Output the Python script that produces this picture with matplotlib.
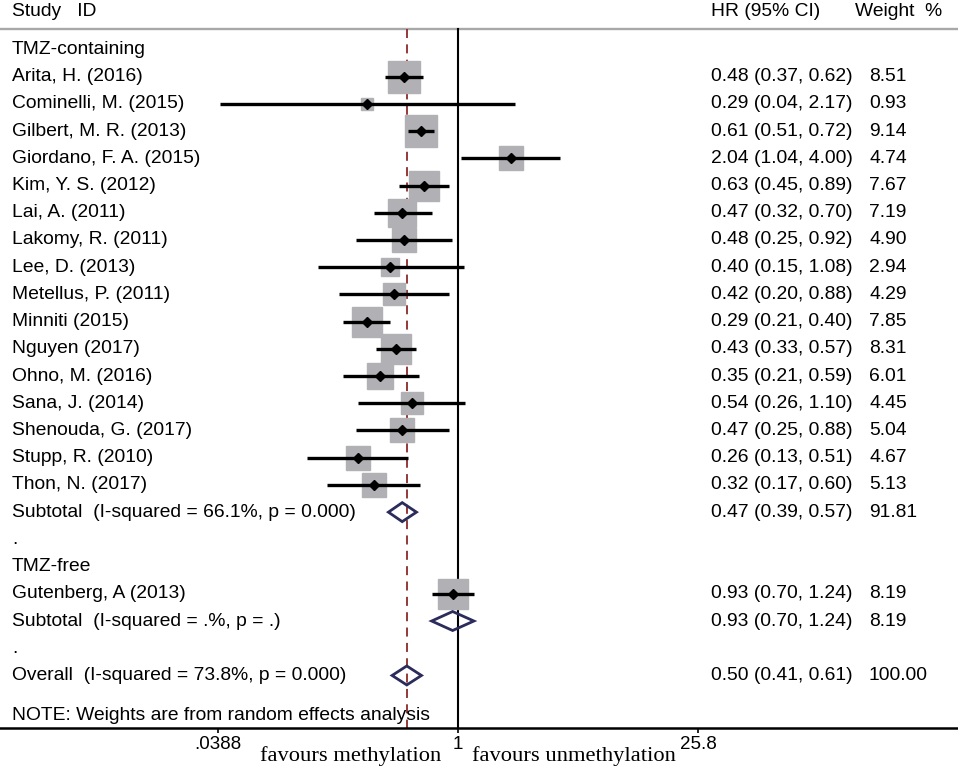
import numpy as np
import matplotlib
matplotlib.use("Agg")
import matplotlib.pyplot as plt
from matplotlib.patches import Polygon
import matplotlib.transforms as mtransforms

# ---------------- data ----------------
studies_tmz = ["Arita, H. (2016)", "Cominelli, M. (2015)", "Gilbert, M. R. (2013)",
               "Giordano, F. A. (2015)", "Kim, Y. S. (2012)", "Lai, A. (2011)",
               "Lakomy, R. (2011)", "Lee, D. (2013)", "Metellus, P. (2011)",
               "Minniti (2015)", "Nguyen (2017)", "Ohno, M. (2016)", "Sana, J. (2014)",
               "Shenouda, G. (2017)", "Stupp, R. (2010)", "Thon, N. (2017)"]
hr_tmz = [0.48, 0.29, 0.61, 2.04, 0.63, 0.47, 0.48, 0.40, 0.42, 0.29, 0.43, 0.35, 0.54, 0.47, 0.26, 0.32]
lo_tmz = [0.37, 0.04, 0.51, 1.04, 0.45, 0.32, 0.25, 0.15, 0.20, 0.21, 0.33, 0.21, 0.26, 0.25, 0.13, 0.17]
hi_tmz = [0.62, 2.17, 0.72, 4.00, 0.89, 0.70, 0.92, 1.08, 0.88, 0.40, 0.57, 0.59, 1.10, 0.88, 0.51, 0.60]
w_tmz = [8.51, 0.93, 9.14, 4.74, 7.67, 7.19, 4.90, 2.94, 4.29, 7.85, 8.31, 6.01, 4.45, 5.04, 4.67, 5.13]
sub_tmz = [0.47, 0.39, 0.57, 91.81]
sub_tmz_label = "Subtotal  (I-squared = 66.1%, p = 0.000)"

studies_free = ["Gutenberg, A (2013)"]
hr_free = [0.93]
lo_free = [0.70]
hi_free = [1.24]
w_free = [8.19]
sub_free = [0.93, 0.70, 1.24, 8.19]
sub_free_label = "Subtotal  (I-squared = .%, p = .)"

overall = [0.50, 0.41, 0.61, 100.00]
overall_label = "Overall  (I-squared = 73.8%, p = 0.000)"

tick_vals = [0.0388, 1, 25.8]
tick_labels = [".0388", "1", "25.8"]

# ---------------- layout ----------------
W, H = 958, 772
PX0 = 458.0      # pixel of HR = 1
PXL = 73.9       # pixels per natural-log unit
ROW0 = 49.4
ROWH = 27.22
AXIS_Y = 728
TOP_Y = 29

fig = plt.figure(figsize=(W / 100, H / 100), dpi=100)
ax = fig.add_axes([0, 0, 1, 1])
ax.set_xscale("log")
ax.set_xlim(np.exp((0 - PX0) / PXL), np.exp((W - PX0) / PXL))
ax.set_ylim(H, 0)
for s in ["top", "left", "right"]:
    ax.spines[s].set_visible(False)
ax.spines["bottom"].set_position(("data", AXIS_Y))
ax.spines["bottom"].set_linewidth(1.8)
ax.set_yticks([])
ax.set_xticks(tick_vals)
ax.set_xticklabels(tick_labels)
ax.minorticks_off()
ax.tick_params(axis="x", direction="out", length=3.5, width=1.2, pad=2.5,
               labelsize=13.5)
for lab in ax.get_xticklabels():
    lab.set_fontfamily("Liberation Sans")

trans = mtransforms.blended_transform_factory(ax.transAxes, ax.transData)
SANS = "Liberation Sans"
FS = 13.9

def txt(px, y, s, **kw):
    ax.text(px / W, y, s, transform=trans, fontsize=kw.pop("fontsize", FS),
            family=kw.pop("family", SANS), va="center", ha=kw.pop("ha", "left"), **kw)

def row(i):
    return ROW0 + i * ROWH

HR_X = 711
WT_X = 869
LEFT_X = 12

# header
txt(LEFT_X, 12, "Study   ID")
txt(HR_X, 12, "HR (95% CI)")
txt(855, 12, "Weight  %")
ax.plot([0, 1], [TOP_Y, TOP_Y], transform=trans, color="#a8a8a8", lw=1.7, zorder=1)

# reference lines
ax.plot([1, 1], [TOP_Y, AXIS_Y], color="black", lw=1.5, zorder=2)
ax.plot([overall[0], overall[0]], [TOP_Y, AXIS_Y], color="#8b2a2a", lw=1.3,
        ls=(0, (5, 3.5)), zorder=1)

BOX_K = 10.4  # px per sqrt(weight)

def study(i, name, hr, lo, hi, w):
    y = row(i)
    side = (BOX_K * np.sqrt(w) + 1.0) * 0.72
    ax.plot([hr], [y], marker="s", ms=side, mfc="#b1b1b5", mec="#b1b1b5", ls="none", zorder=3)
    ax.plot([lo, hi], [y, y], color="black", lw=2.4, solid_capstyle="butt", zorder=4)
    ax.plot([hr], [y], marker="D", ms=5.5, color="black", ls="none", zorder=5)
    txt(LEFT_X, y, name)
    txt(HR_X, y, f"{hr:.2f} ({lo:.2f}, {hi:.2f})")
    txt(WT_X, y, f"{w:.2f}")

def diamond(i, label, vals):
    hr, lo, hi, w = vals
    y = row(i)
    hh = 9.5
    poly = Polygon([[lo, y], [hr, y - hh], [hi, y], [hr, y + hh]], closed=True,
                   fill=False, edgecolor="#2b2b5c", lw=2.0, zorder=5, joinstyle="miter")
    ax.add_patch(poly)
    txt(LEFT_X, y, label)
    txt(HR_X, y, f"{hr:.2f} ({lo:.2f}, {hi:.2f})")
    txt(WT_X, y, f"{w:.2f}")

r = 0
txt(LEFT_X, row(r), "TMZ-containing")
r += 1
for k in range(len(studies_tmz)):
    study(r, studies_tmz[k], hr_tmz[k], lo_tmz[k], hi_tmz[k], w_tmz[k])
    r += 1
diamond(r, sub_tmz_label, sub_tmz)
r += 1
txt(LEFT_X, row(r), ".")
r += 1
txt(LEFT_X, row(r), "TMZ-free")
r += 1
for k in range(len(studies_free)):
    study(r, studies_free[k], hr_free[k], lo_free[k], hi_free[k], w_free[k])
    r += 1
diamond(r, sub_free_label, sub_free)
r += 1
txt(LEFT_X, row(r), ".")
r += 1
diamond(r, overall_label, overall)

txt(LEFT_X, 715, "NOTE: Weights are from random effects analysis")

SERIF = "Liberation Serif"
txt(260, 756, "favours methylation", family=SERIF, fontsize=16.2)
txt(472, 756, "favours unmethylation", family=SERIF, fontsize=16.2)

fig.savefig("out.png", dpi=100)
